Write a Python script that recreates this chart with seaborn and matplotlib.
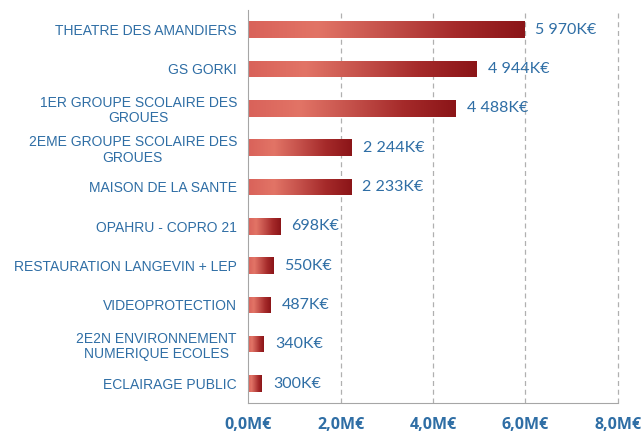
import numpy as np
import pandas as pd
import seaborn as sns
import matplotlib.pyplot as plt
from matplotlib.colors import LinearSegmentedColormap

# Données (en K€)
projets = [
    "THEATRE DES AMANDIERS",
    "GS GORKI",
    "1ER GROUPE SCOLAIRE DES\nGROUES",
    "2EME GROUPE SCOLAIRE DES\nGROUES",
    "MAISON DE LA SANTE",
    "OPAHRU - COPRO 21",
    "RESTAURATION LANGEVIN + LEP",
    "VIDEOPROTECTION",
    "2E2N ENVIRONNEMENT\nNUMERIQUE ECOLES",
    "ECLAIRAGE PUBLIC",
]
montants_k = [5970, 4944, 4488, 2244, 2233, 698, 550, 487, 340, 300]
ticks_m = [0, 2, 4, 6, 8]

bleu = "#2f6ea5"

df = pd.DataFrame({"Projet": projets, "Montant": np.array(montants_k) / 1000})

sns.set_style("white")
plt.rcParams['font.family'] = ['Liberation Sans', 'DejaVu Sans']

fig = plt.figure(figsize=(6.41, 4.34), dpi=100)
ax = fig.add_axes([0.387, 0.071, 0.577, 0.906])

sns.barplot(data=df, x="Montant", y="Projet", orient="h", width=0.42,
            color="#c0392b", ax=ax)

# dégradé clair -> rouge foncé sur chaque barre
cmap = LinearSegmentedColormap.from_list(
    "rouge", ["#d9625a", "#e27466", "#c4504a", "#a52a2a", "#8b1518"])
grad = np.linspace(0, 1, 256).reshape(1, -1)
for p in ax.patches:
    x0, y0 = p.get_x(), p.get_y()
    w, h = p.get_width(), p.get_height()
    im = ax.imshow(grad, cmap=cmap, aspect="auto", extent=[x0, x0 + w, y0 + h, y0],
                   zorder=2)
    im.set_clip_path(p)
    p.set_facecolor("none")
    p.set_edgecolor("none")

for i, v in enumerate(montants_k):
    txt = f"{v:,}".replace(",", " ") + "K€"
    ax.text(v / 1000 + 0.24, i, txt, va="center", ha="left", color=bleu,
            fontsize=11.5, family="Lato")

ax.set_xlim(0, 8)
ax.set_ylim(9.5, -0.5)
ax.set_xticks(ticks_m)
ax.set_xticklabels([f"{t},0M€" for t in ticks_m], fontweight="bold",
                   color=bleu, fontsize=11.5, family="Open Sans")
ax.tick_params(axis="x", length=0, pad=10)
ax.tick_params(axis="y", length=0, pad=8, labelsize=10, labelcolor=bleu)
for lab in ax.get_yticklabels():
    lab.set_multialignment("center")
    lab.set_linespacing(1.15)

for t in ticks_m[1:]:
    ax.axvline(t, color="#b0b0b0", linestyle=(0, (4, 3)), linewidth=0.9,
               zorder=0, clip_on=False)

ax.set_xlabel("")
ax.set_ylabel("")
sns.despine(ax=ax, top=True, right=True)
ax.spines["left"].set_color("#a6a6a6")
ax.spines["bottom"].set_color("#a6a6a6")

fig.savefig("out.png", dpi=100)
